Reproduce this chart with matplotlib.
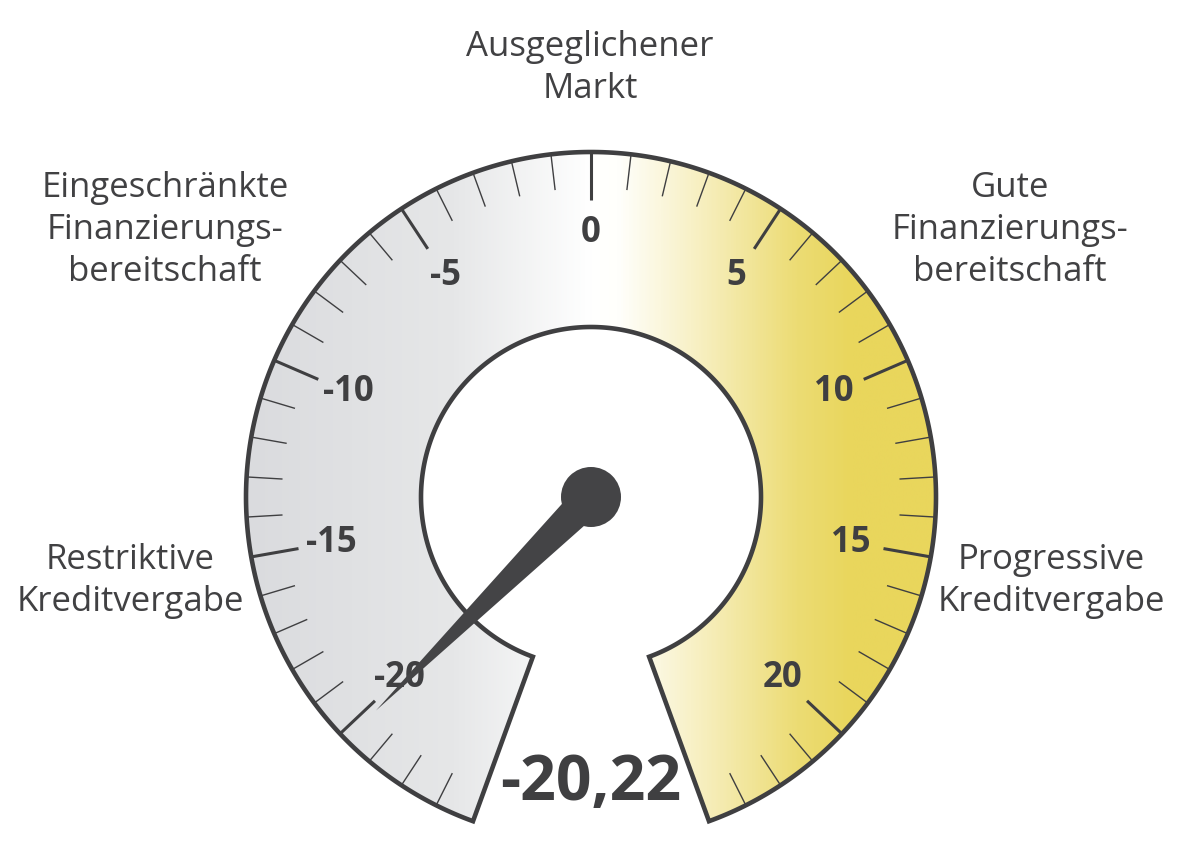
import numpy as np
import matplotlib
matplotlib.use("Agg")
import matplotlib.pyplot as plt
from matplotlib.patches import PathPatch, Circle, Polygon
from matplotlib.path import Path
from matplotlib.colors import LinearSegmentedColormap

# ---------------- data ----------------
value = -20.22
value_label = "-20,22"
scale_min, scale_max = -24, 24
major_ticks = [-20, -15, -10, -5, 0, 5, 10, 15, 20]
major_labels = ["-20", "-15", "-10", "-5", "0", "5", "10", "15", "20"]
zone_labels = [
    "Restriktive\nKreditvergabe",
    "Eingeschränkte\nFinanzierungs-\nbereitschaft",
    "Ausgeglichener\nMarkt",
    "Gute\nFinanzierungs-\nbereitschaft",
    "Progressive\nKreditvergabe",
]

# ---------------- style / layout ----------------
W, H = 1182, 851
cx, cy = 591, 497
R_out, R_in = 345, 170
sweep = 160.0  # degrees each side of the top
dark = "#3f3f41"
FONT = ["Open Sans", "DejaVu Sans"]

fig = plt.figure(figsize=(W / 100, H / 100), dpi=100)
ax = fig.add_axes([0, 0, 1, 1])
ax.set_xlim(0, W)
ax.set_ylim(H, 0)
ax.axis("off")


def ang(v):
    return np.deg2rad(v / scale_max * sweep)


def pt(v, r):
    a = ang(v)
    return cx + r * np.sin(a), cy - r * np.cos(a)


# ring path
vs = np.linspace(scale_min, scale_max, 400)
outer = [pt(v, R_out) for v in vs]
inner = [pt(v, R_in) for v in vs[::-1]]
verts = outer + inner + [outer[0]]
codes = [Path.MOVETO] + [Path.LINETO] * (len(verts) - 2) + [Path.CLOSEPOLY]
ring = Path(verts, codes)

# gradient fill (horizontal)
cmap = LinearSegmentedColormap.from_list(
    "g",
    [
        (0.00, "#dadbde"),
        (0.30, "#e6e7e8"),
        (0.50, "#ffffff"),
        (0.54, "#fffffc"),
        (0.66, "#f7efc0"),
        (0.80, "#ecdc74"),
        (0.88, "#e9d65c"),
        (1.00, "#e9d65c"),
    ],
)
x0, x1 = cx - R_out, cx + R_out
grad = np.linspace(0, 1, 600)[None, :].repeat(2, axis=0)
im = ax.imshow(grad, cmap=cmap, extent=(x0, x1, cy + R_out, cy - R_out),
               aspect="auto", interpolation="bilinear", zorder=1)
clip = PathPatch(ring, transform=ax.transData, facecolor="none", edgecolor="none")
ax.add_patch(clip)
im.set_clip_path(clip)

# ticks
for v in range(scale_min, scale_max + 1):
    major = v in major_ticks
    L = 48 if major else 36
    (xa, ya), (xb, yb) = pt(v, R_out), pt(v, R_out - L)
    ax.plot([xa, xb], [ya, yb], color=dark, lw=2.2 if major else 1.0,
            solid_capstyle="butt", zorder=2)

# outline
ax.add_patch(PathPatch(ring, facecolor="none", edgecolor=dark, lw=3.3,
                       joinstyle="miter", zorder=3))

# tick labels
for v, lab in zip(major_ticks, major_labels):
    x, y = pt(v, 264)
    ax.text(x, y, lab, ha="center", va="center", fontsize=25, color=dark,
            family=FONT, fontweight="bold", zorder=4)

# needle
a = ang(value)
tip = pt(value, 303)
perp = np.array([np.cos(a), np.sin(a)])
hw = 17
base1 = (cx + perp[0] * hw, cy + perp[1] * hw)
base2 = (cx - perp[0] * hw, cy - perp[1] * hw)
ax.add_patch(Polygon([base1, tip, base2], closed=True, facecolor="#444446",
                     edgecolor="none", zorder=5))
ax.add_patch(Circle((cx, cy), 30, facecolor="#444446", edgecolor="none", zorder=6))

# value
ax.text(cx, 784, value_label, ha="center", va="center", fontsize=45,
        color=dark, family=FONT, fontweight="bold", zorder=6)

# zone labels
zone_pos = [(130, 581), (165, 230), (590, 68), (1010, 230), (1051, 581)]
for (x, y), t in zip(zone_pos, zone_labels):
    ax.text(x, y, t, ha="center", va="center", fontsize=25, color="#414143",
            family=FONT, linespacing=1.3, zorder=4)

fig.savefig("out.png", dpi=100)
